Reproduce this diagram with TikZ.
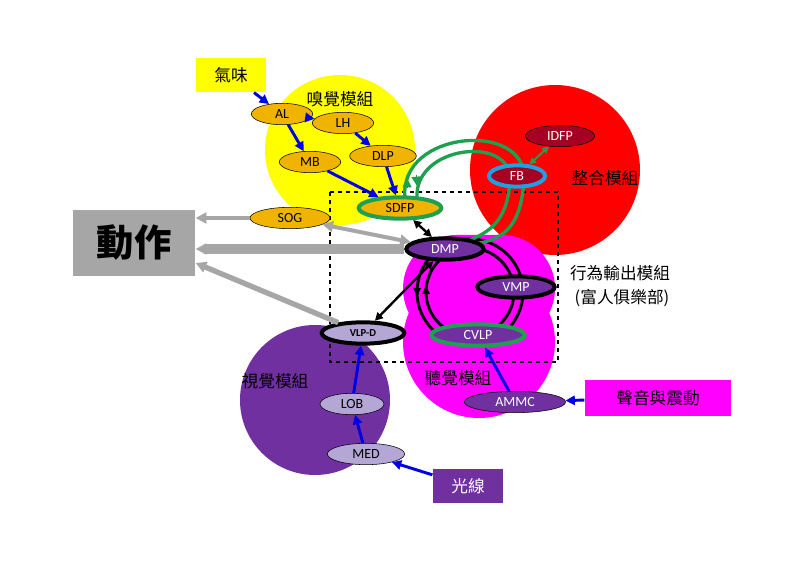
\documentclass[tikz,border=0pt]{standalone}
\usepackage{fontspec}
\setmainfont{Carlito}
\newfontfamily\cjk{Noto Sans CJK TC}
\usetikzlibrary{arrows.meta,shapes.geometric}
\definecolor{yel}{HTML}{FFFF00}
\definecolor{org}{HTML}{F0B400}
\definecolor{pur}{HTML}{7030A0}
\definecolor{dred}{HTML}{A50021}
\definecolor{lpur}{HTML}{B4A7D6}
\definecolor{grn}{HTML}{1FA050}
\definecolor{skb}{HTML}{1FA0E0}
\definecolor{mag}{RGB}{255,0,255}
\definecolor{rd}{RGB}{255,0,0}
\tikzset{
 el/.style={ellipse,draw=black,inner sep=0pt,minimum width=#1,minimum height=16,font=\fontsize{10.5}{10.5}\selectfont},
 el/.default=46,
 ba/.style={-{Triangle[length=7,width=7]},blue!90!black,line width=2.2},
 ka/.style={{Triangle[length=6,width=6]}-{Triangle[length=6,width=6]},black,line width=1.8},
 ga/.style={-{Triangle[length=8,width=8]},gray!70,line width=#1},
 lab/.style={font=\cjk\fontsize{12.5}{12.5}\selectfont},
 gtip/.style={grn,-{Triangle[length=7,width=7]},line width=0},
}
\begin{document}
\begin{tikzpicture}[x=0.75pt,y=-0.75pt]
\useasboundingbox (0,0) rectangle (800,566);
\fill[white] (0,0) rectangle (800,566);
% modules
\fill[yel] (340,150) circle (75);
\fill[rd] (555,170) circle (85);
\fill[pur] (315,400) circle (75);
\fill[mag,rounded corners=40] (403,235) rectangle (555,342);
\fill[mag] (479,342) circle (76);
\draw[dashed,line width=1.5] (330,192) rectangle (558,362);
% label boxes
\node[fill=yel,lab,minimum width=53,minimum height=26] (qw) at (231,75) {氣味};
\node[fill=gray!70,font=\cjk\bfseries\fontsize{28}{28}\selectfont,minimum width=92,minimum height=50,inner sep=0] (dz) at (134,243) {動作};
\node[fill=pur,text=white,lab,minimum width=53,minimum height=25] (gx) at (468,486) {光線};
\node[fill=mag,lab,minimum width=110,minimum height=27] (sy) at (658,398) {聲音與震動};
\node[lab] at (340,99) {嗅覺模組};
\node[lab] at (605,178) {整合模組};
\node[lab] at (620,273) {行為輸出模組};
\node[lab] at (622,298) {(富人俱樂部)};
\node[lab] at (275,381) {視覺模組};
\node[lab] at (458,378) {聽覺模組};
% black rings
\draw[line width=2.2] (470,292) circle (53);
\draw[line width=2.2] (470,292) circle (44);
\draw[-{Triangle[length=6,width=6]},line width=0] (417,290) -- (417,296);
\draw[-{Triangle[length=6,width=6]},line width=0] (426,292) -- (426,286);
% green rings
\draw[grn,line width=2.5] (405,198) .. controls (398,130) and (528,120) .. (524,180) .. controls (521,225) and (505,238) .. (480,243);
\draw[grn,line width=2.5] (417,198) .. controls (414,145) and (512,135) .. (510,180) .. controls (508,215) and (495,230) .. (470,240);
\draw[gtip] (407,188) -- (407,178);
\draw[gtip] (416,176) -- (417,186);
% nodes
\node[el,fill=org] (AL) at (282,114) {AL};
\node[el,fill=org] (LH) at (343,123) {LH};
\node[el,fill=org] (MB) at (310,162) {MB};
\node[el=50,fill=org] (DLP) at (383,156) {DLP};
\node[el=60,fill=org] (SOG) at (290,218) {SOG};
\node[el=62,fill=org,draw=grn,line width=3] (SDFP) at (400,208) {SDFP};
\node[el=52,fill=dred,text=white] (IDFP) at (560,136) {IDFP};
\node[el=42,fill=dred,text=white,draw=skb,line width=3] (FB) at (517,176) {FB};
\node[el=58,fill=pur,text=white,line width=3] (DMP) at (445,249) {DMP};
\node[el=58,fill=pur,text=white,line width=3] (VMP) at (516,287) {VMP};
\node[el=70,fill=pur,text=white,draw=grn,line width=3] (CVLP) at (478,335) {CVLP};
\node[el=62,fill=lpur,line width=3,font=\bfseries\fontsize{8}{8}\selectfont] (VLPD) at (363,333) {VLP-D};
\node[el=48,fill=lpur] (LOB) at (352,404) {LOB};
\node[el=58,fill=lpur] (MED) at (366,454) {MED};
\node[el=76,fill=pur,text=white] (AMMC) at (515,402) {AMMC};
% arrows
\draw[ba] (qw) -- (AL);
\draw[ba] (AL) -- (MB);
\draw[ba] (AL) -- (LH);
\draw[ba] (LH) -- (DLP);
\draw[ba] (MB) -- (SDFP);
\draw[ba] (DLP) -- (SDFP);
\draw[ba] (gx) -- (MED);
\draw[ba] (MED) -- (LOB);
\draw[ba] (LOB) -- (VLPD);
\draw[ba] (sy) -- (AMMC);
\draw[ba] (AMMC) -- (CVLP);
\draw[ka] (SDFP) -- (DMP);
\draw[ka] (DMP) -- (VLPD);
\draw[grn,line width=1.5,{Triangle[length=5,width=5]}-{Triangle[length=5,width=5]}] (FB) -- (IDFP);
\draw[ga=3] (SOG) -- (dz.east |- SOG);
\draw[ga=7] (DMP) -- (dz.east |- DMP);
\draw[ga=4] (VLPD) -- (dz.east |- 0,263);
\draw[gray!70,line width=3,{Triangle[length=8,width=8]}-{Triangle[length=8,width=8]}] (SOG) -- (DMP);
\end{tikzpicture}
\end{document}
